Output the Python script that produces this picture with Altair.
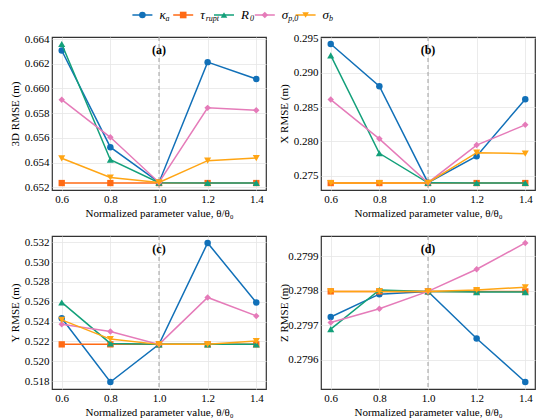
import altair as alt
import pandas as pd

# ---------------- data ----------------
X_VALUES = [0.6, 0.8, 1.0, 1.2, 1.4]
SERIES = ["kappa_a", "tau_rupt", "R_0", "sigma_p0", "sigma_b"]
LEGEND_BASE = ["κ", "τ", "R", "σ", "σ"]
LEGEND_SUB = ["a", "rupt", "0", "p,0", "b"]
COLORS = ["#1170b8", "#ff6a14", "#13a07a", "#e57bb9", "#ffa514"]
SHAPES = ["circle", "square", "triangle-up", "diamond", "triangle-down"]
MARKER_SIZES = [42, 40, 50, 42, 50]
SUB_DX = [23, 22.5, 26, 23.5, 23.5]

# (a) 3D RMSE
A_KAPPA = [0.66307, 0.65525, 0.65240, 0.66213, 0.66077]
A_TAU = [0.65235, 0.65235, 0.65235, 0.65235, 0.65235]
A_R0 = [0.66360, 0.65424, 0.65238, 0.65236, 0.65236]
A_SP0 = [0.65909, 0.65605, 0.65240, 0.65843, 0.65824]
A_SB = [0.65435, 0.65280, 0.65240, 0.65416, 0.65437]

# (b) X RMSE
B_KAPPA = [0.29419, 0.28804, 0.27400, 0.27785, 0.28615]
B_TAU = [0.27395, 0.27395, 0.27395, 0.27395, 0.27395]
B_R0 = [0.29252, 0.27828, 0.27398, 0.27395, 0.27395]
B_SP0 = [0.28610, 0.28038, 0.27400, 0.27947, 0.28242]
B_SB = [0.27396, 0.27396, 0.27400, 0.27837, 0.27823]

# (c) Y RMSE
C_KAPPA = [0.52433, 0.51790, 0.52170, 0.53193, 0.52593]
C_TAU = [0.52170, 0.52170, 0.52170, 0.52170, 0.52170]
C_R0 = [0.52593, 0.52180, 0.52170, 0.52170, 0.52170]
C_SP0 = [0.52373, 0.52300, 0.52170, 0.52643, 0.52457]
C_SB = [0.52417, 0.52223, 0.52170, 0.52170, 0.52203]

# (d) Z RMSE
D_KAPPA = [0.279724, 0.279790, 0.279798, 0.279662, 0.279536]
D_TAU = [0.279798, 0.279798, 0.279798, 0.279798, 0.279798]
D_R0 = [0.279689, 0.279802, 0.279798, 0.279796, 0.279796]
D_SP0 = [0.279708, 0.279748, 0.279798, 0.279862, 0.279938]
D_SB = [0.279798, 0.279798, 0.279798, 0.279802, 0.279810]

PANEL_LABELS = ["(a)", "(b)", "(c)", "(d)"]
Y_TITLES = ["3D RMSE (m)", "X RMSE (m)", "Y RMSE (m)", "Z RMSE (m)"]
Y_TICKS = [
    [0.652, 0.654, 0.656, 0.658, 0.660, 0.662, 0.664],
    [0.275, 0.280, 0.285, 0.290, 0.295],
    [0.518, 0.520, 0.522, 0.524, 0.526, 0.528, 0.530, 0.532],
    [0.2796, 0.2797, 0.2798, 0.2799],
]
Y_FORMATS = [".3f", ".3f", ".3f", ".4f"]
X_TITLE = "Normalized parameter value, θ/θ₀"
REF_X = 1.0

FONT = "'Liberation Serif', 'DejaVu Serif', serif"
W, H = 214, 153


def panel(values, label, ytitle, ticks, fmt):
    rows = []
    for s, vals in zip(SERIES, values):
        for xv, yv in zip(X_VALUES, vals):
            rows.append({"x": xv, "y": yv, "series": s})
    df = pd.DataFrame(rows)
    allv = [v for vals in values for v in vals]
    lo, hi = min(allv), max(allv)
    r = hi - lo
    xs = alt.Scale(domain=[0.56, 1.44], nice=False, zero=False)
    ys = alt.Scale(domain=[lo - 0.05 * r, hi + 0.05 * r], nice=False, zero=False)
    xenc = alt.X("x:Q", scale=xs,
                 axis=alt.Axis(values=X_VALUES, format=".1f", title=X_TITLE))
    yenc = alt.Y("y:Q", scale=ys,
                 axis=alt.Axis(values=ticks, format=fmt, title=ytitle))

    ref = alt.Chart(pd.DataFrame({"x": [REF_X]})).mark_rule(
        color="#a0a0a0", strokeDash=[4, 3], strokeWidth=1
    ).encode(x=xenc)
    layers = [ref]
    for s, c, sh, sz in zip(SERIES, COLORS, SHAPES, MARKER_SIZES):
        base = alt.Chart(df).transform_filter(alt.datum.series == s)
        layers.append(base.mark_line(color=c, strokeWidth=1.5).encode(x=xenc, y=yenc))
        layers.append(base.mark_point(shape=sh, filled=True, color=c, size=sz,
                                      opacity=1).encode(x=xenc, y=yenc))
    txt = alt.Chart(pd.DataFrame({"x": [REF_X], "t": [label]})).mark_text(
        font=FONT, fontWeight="bold", fontSize=12, align="center",
        baseline="middle", color="black"
    ).encode(x=xenc, y=alt.value(13), text="t:N")
    layers.append(txt)
    return alt.layer(*layers).properties(width=W, height=H)


panels = [
    panel([A_KAPPA, A_TAU, A_R0, A_SP0, A_SB], PANEL_LABELS[0], Y_TITLES[0], Y_TICKS[0], Y_FORMATS[0]),
    panel([B_KAPPA, B_TAU, B_R0, B_SP0, B_SB], PANEL_LABELS[1], Y_TITLES[1], Y_TICKS[1], Y_FORMATS[1]),
    panel([C_KAPPA, C_TAU, C_R0, C_SP0, C_SB], PANEL_LABELS[2], Y_TITLES[2], Y_TICKS[2], Y_FORMATS[2]),
    panel([D_KAPPA, D_TAU, D_R0, D_SP0, D_SB], PANEL_LABELS[3], Y_TITLES[3], Y_TICKS[3], Y_FORMATS[3]),
]

# ---------------- legend ----------------
leg_df = pd.DataFrame({"series": SERIES, "base": LEGEND_BASE, "sub": LEGEND_SUB})
lx = alt.X("series:N", scale=alt.Scale(domain=SERIES, range=[70, 274], padding=0), axis=None)
lcolor = alt.Color("series:N", scale=alt.Scale(domain=SERIES, range=COLORS), legend=None)
lshape = alt.Shape("series:N", scale=alt.Scale(domain=SERIES, range=SHAPES), legend=None)
LY = 0
leg_base = alt.Chart(leg_df)
leg_line = leg_base.mark_rule(strokeWidth=1.5, xOffset=-10, x2Offset=10).encode(
    x=lx, x2="series:N", y=alt.value(LY), color=lcolor)
leg_pt = leg_base.mark_point(filled=True, opacity=1, size=44).encode(
    x=lx, y=alt.value(LY), color=lcolor, shape=lshape)
leg_txt = leg_base.mark_text(font=FONT, fontStyle="italic", fontSize=13, align="left",
                             baseline="middle", dx=17, color="black").encode(
    x=lx, y=alt.value(LY), text="base:N")
leg_layers = [leg_line, leg_pt, leg_txt]
for s, sdx in zip(SERIES, SUB_DX):
    leg_layers.append(
        leg_base.transform_filter(alt.datum.series == s).mark_text(
            font=FONT, fontStyle="italic", fontSize=8, align="left",
            baseline="middle", dx=sdx, dy=4, color="black"
        ).encode(x=lx, y=alt.value(LY), text="sub:N")
    )
legend = alt.layer(*leg_layers).properties(
    width=480, height=8, view=alt.ViewBackground(stroke="transparent"))

grid = alt.vconcat(
    alt.hconcat(panels[0], panels[1], spacing=10),
    alt.hconcat(panels[2], panels[3], spacing=10),
    spacing=15,
)

chart = alt.vconcat(legend, grid, spacing=7).properties(
    padding={"left": 0, "top": 0, "right": 0, "bottom": 0}
).configure(font=FONT).configure_view(
    stroke="#333333", strokeWidth=1.2
).configure_axis(
    labelFont=FONT, titleFont=FONT, labelFontSize=11, titleFontSize=11,
    titleFontWeight="normal", labelColor="black", titleColor="black",
    gridColor="#e6e6e6", gridWidth=0.8, domain=False, ticks=False,
    labelPadding=3,
).configure_axisY(
    minExtent=31, maxExtent=31, titlePadding=1,
).configure_axisX(
    titlePadding=3,
)

chart.save("out.html", embed_options={"renderer": "svg", "actions": False})
